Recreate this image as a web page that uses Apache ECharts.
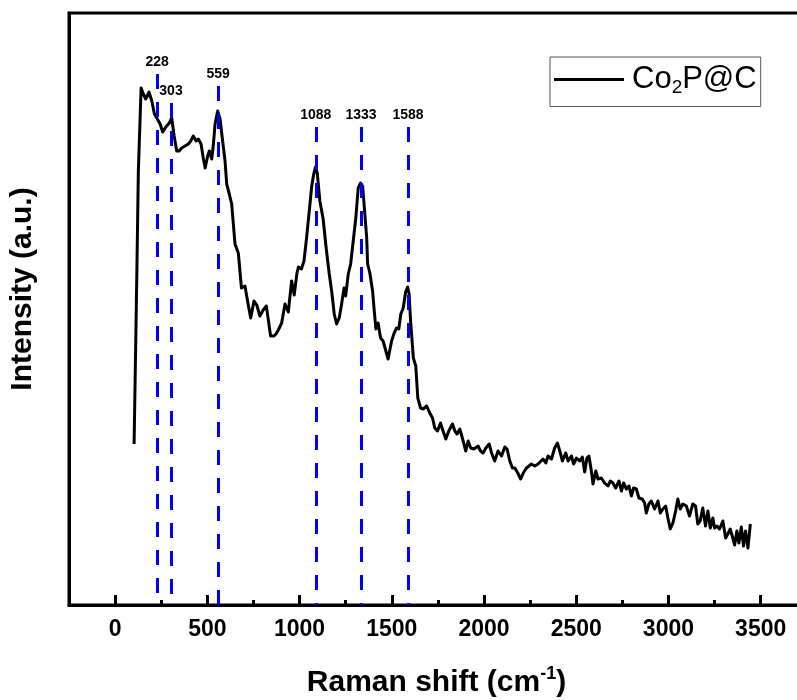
<!DOCTYPE html>
<html>
<head>
<meta charset="utf-8">
<script src="https://cdn.jsdelivr.net/npm/echarts@6/dist/echarts.min.js"></script>
<style>html,body{margin:0;padding:0;background:#fff}#chart{width:797px;height:700px}</style>
</head>
<body>
<div id="chart"></div>
<script>
const ramanShift = [103,118,126,141,153,166,184,199,213,229,244,258,275,294,307,320,334,347,361,379,397,410,424,439,451,466,478,488,502,511,524,533,542,556,569,581,596,605,619,632,641,650,668,685,704,720,735,753,768,785,803,820,830,843,861,872,885,903,921,939,957,971,986,994,1010,1024,1038,1051,1066,1078,1086,1096,1110,1128,1143,1161,1174,1188,1201,1215,1228,1241,1250,1264,1277,1291,1305,1318,1331,1342,1354,1364,1369,1381,1396,1405,1414,1426,1439,1453,1468,1480,1499,1513,1526,1538,1549,1562,1575,1586,1594,1602,1617,1630,1641,1656,1670,1689,1706,1721,1733,1748,1764,1778,1793,1809,1829,1842,1854,1869,1887,1901,1914,1928,1945,1968,1981,1995,2010,2028,2041,2058,2076,2095,2113,2125,2140,2154,2167,2183,2199,2213,2230,2257,2275,2293,2320,2335,2347,2366,2383,2398,2411,2425,2443,2456,2474,2486,2501,2519,2533,2546,2558,2569,2582,2591,2606,2618,2636,2654,2672,2685,2699,2714,2732,2745,2757,2772,2786,2799,2811,2826,2840,2858,2871,2880,2894,2907,2925,2943,2956,2970,2985,2997,3010,3024,3039,3051,3064,3078,3097,3114,3132,3147,3159,3172,3186,3201,3214,3227,3241,3250,3263,3277,3295,3310,3322,3335,3346,3359,3371,3382,3395,3407,3418,3431,3444,3445];
const intensity = [161,334,434,517,511,506,513,504,491,486,481,473,478,482,487,469,454,454,457,459,461,464,469,464,466,461,447,437,449,454,446,461,481,494,486,467,444,421,411,401,381,361,352,317,319,302,287,304,300,289,295,299,286,269,269,271,275,282,301,293,324,310,332,338,336,344,367,391,419,432,438,432,404,386,359,331,314,291,281,287,301,317,309,331,341,364,387,417,422,419,391,367,341,332,314,294,276,282,267,264,254,246,264,272,277,276,291,297,313,318,311,284,247,239,207,197,196,199,192,187,177,174,182,174,166,174,181,174,171,176,164,154,164,157,156,159,154,152,157,161,152,144,154,149,158,156,144,137,137,132,126,132,137,141,139,141,146,142,149,146,157,162,154,144,152,144,149,141,147,144,148,133,147,149,134,121,134,126,127,122,119,124,122,117,124,114,122,116,119,109,117,116,107,106,102,92,101,104,96,104,92,96,99,87,76,82,94,106,96,101,99,89,101,99,81,84,97,79,94,77,87,77,79,76,84,67,71,76,69,60,74,62,78,59,74,57,81,81];
const peakPositions = [228, 303, 559, 1088, 1333, 1588];
const peakLineTops = [531, 502, 519, 478, 478, 478];
const xTickValues = [0, 500, 1000, 1500, 2000, 2500, 3000, 3500];
const xMinorTickValues = [250, 750, 1250, 1750, 2250, 2750, 3250, 3750];
const seriesName = 'Co2P@C';

const FONT = "'Liberation Sans', Arial, sans-serif";
const chart = echarts.init(document.getElementById('chart'), null, {renderer: 'canvas'});
const lineData = ramanShift.map((x, i) => [x, intensity[i]]);

const option = {
  animation: false,
  backgroundColor: '#fff',
  grid: {left: 69, top: 13, width: 747, height: 592, outerBoundsMode: 'none', containLabel: false, show: true, borderColor: '#000', borderWidth: 3, backgroundColor: 'transparent'},
  legend: {
    left: 550, top: 57,
    icon: 'rect', itemWidth: 70, itemHeight: 3, itemGap: 0,
    padding: [7, 4, 9, 4],
    borderColor: '#555', borderWidth: 1,
    data: [seriesName],
    formatter: () => '{c|Co}{s|2}{n|P@C}',
    textStyle: {
      color: '#000', fontFamily: FONT, fontSize: 31,
      rich: {
        c: {fontSize: 31, fontFamily: FONT, color: '#000', lineHeight: 36, padding: [0, 0, 0, 3]},
        n: {fontSize: 31, fontFamily: FONT, color: '#000', lineHeight: 36},
        s: {fontSize: 19, fontFamily: FONT, color: '#000', lineHeight: 17, verticalAlign: 'bottom'}
      }
    }
  },
  xAxis: [{
    type: 'value', min: -250, max: 3800,
    position: 'bottom',
    axisLine: {show: true, onZero: false, lineStyle: {color: '#000', width: 3}},
    axisTick: {show: true, inside: true, length: 10, customValues: xTickValues, lineStyle: {color: '#000', width: 3}},
    axisLabel: {customValues: xTickValues, margin: 13, color: '#000', fontFamily: FONT, fontWeight: 'bold', fontSize: 23, formatter: v => String(v)},
    splitLine: {show: false},
    name: '{t|Raman shift (cm}{p|-1}{t|)}',
    nameLocation: 'middle', nameGap: 60,
    nameTextStyle: {
      padding: [0, 12, 0, 0],
      rich: {
        t: {fontSize: 30, fontWeight: 'bold', fontFamily: FONT, color: '#000', lineHeight: 36},
        p: {fontSize: 18, fontWeight: 'bold', fontFamily: FONT, color: '#000', lineHeight: 18, verticalAlign: 'top'}
      }
    }
  }, {
    type: 'value', min: -250, max: 3800,
    position: 'bottom',
    axisLine: {show: false, onZero: false},
    axisTick: {show: true, inside: true, length: 5, customValues: xMinorTickValues, lineStyle: {color: '#000', width: 3}},
    axisLabel: {show: false},
    splitLine: {show: false}
  }],
  yAxis: {
    type: 'value', min: 0, max: 592,
    axisLine: {show: true, onZero: false, lineStyle: {color: '#000', width: 3}},
    axisTick: {show: false},
    axisLabel: {show: false},
    splitLine: {show: false},
    name: 'Intensity (a.u.)',
    nameLocation: 'middle', nameGap: 31,
    nameTextStyle: {fontSize: 30, fontWeight: 'bold', fontFamily: FONT, color: '#000', padding: [0, 0, 0, 40]}
  },
  series: [{
    name: seriesName,
    type: 'line',
    xAxisIndex: 0,
    data: lineData,
    showSymbol: false,
    symbol: 'none',
    lineStyle: {color: '#000', width: 3, join: 'round'},
    itemStyle: {color: '#000'},
    z: 3,
    markLine: {
      silent: true,
      symbol: 'none',
      animation: false,
      lineStyle: {color: '#0000ff', width: 3, type: [15, 13]},
      label: {show: true, position: 'start', distance: 5, color: '#000', fontFamily: FONT, fontWeight: 'bold', fontSize: 14, formatter: p => String(p.data.peak)},
      data: peakPositions.map((x, i) => [{coord: [x, peakLineTops[i]], peak: x}, {coord: [x, 0]}])
    }
  }]
};
chart.setOption(option);
</script>
</body>
</html>
